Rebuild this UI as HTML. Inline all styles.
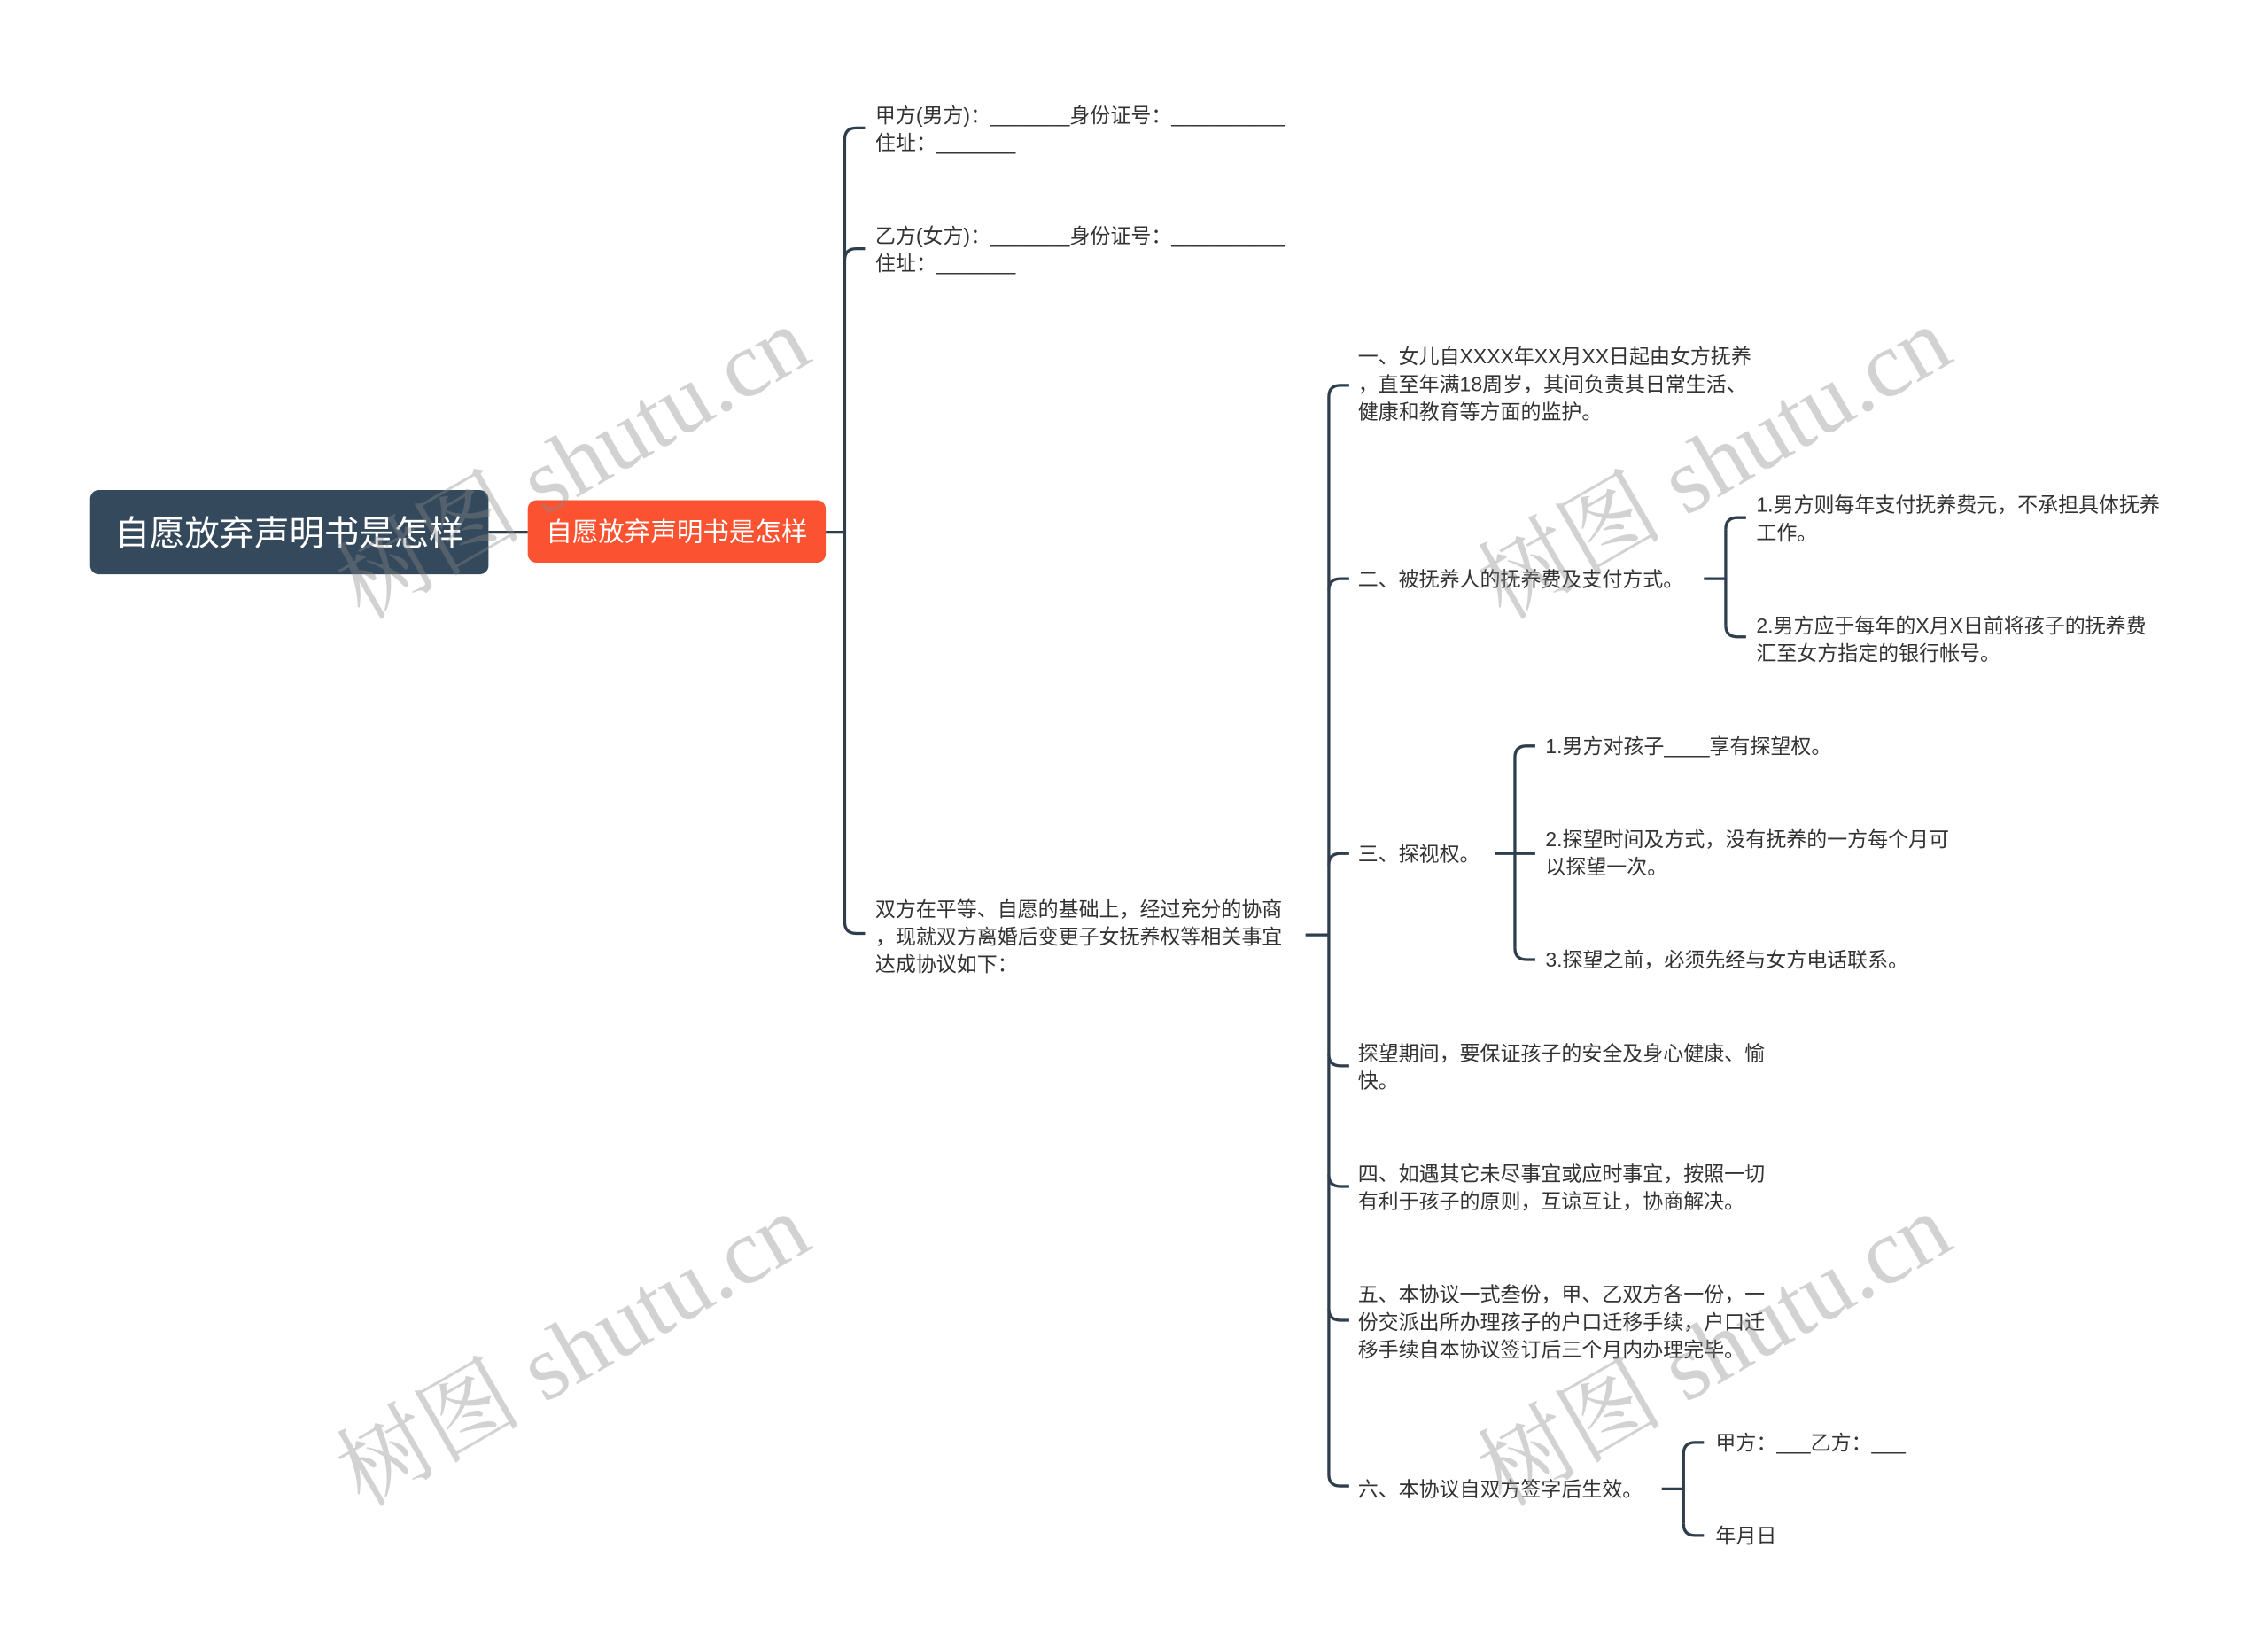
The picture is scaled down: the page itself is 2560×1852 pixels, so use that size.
<!DOCTYPE html>
<html><head><meta charset="utf-8"><style>
html,body{margin:0;padding:0;background:#fff;}
svg{display:block;}
text{font-family:"Liberation Sans","Noto Sans CJK SC",sans-serif;}
</style></head><body>
<svg width="2560" height="1852" viewBox="0 0 1560 1128.6" preserveAspectRatio="none" xmlns="http://www.w3.org/2000/svg">
<g fill="none" stroke="#2f3e4d" stroke-width="2">
<path d="M336 366 L363 366"/>
<path d="M568 366 L581 366"/>
<path d="M581 96 L581 634"/>
<path d="M581 96 Q581 88 589 88 L595 88"/>
<path d="M581 179 Q581 171 589 171 L595 171"/>
<path d="M581 634 Q581 642 589 642 L595 642"/>
<path d="M898 643 L914 643"/>
<path d="M914 273 L914 1014"/>
<path d="M914 273 Q914 265 922 265 L928 265"/>
<path d="M914 406 Q914 398 922 398 L928 398"/>
<path d="M914 595 Q914 587 922 587 L928 587"/>
<path d="M914 725 Q914 733 922 733 L928 733"/>
<path d="M914 808 Q914 816 922 816 L928 816"/>
<path d="M914 900 Q914 908 922 908 L928 908"/>
<path d="M914 1014 Q914 1022 922 1022 L928 1022"/>
<path d="M1172 398 L1187 398"/>
<path d="M1187 364 L1187 430"/>
<path d="M1187 364 Q1187 356 1195 356 L1201 356"/>
<path d="M1187 430 Q1187 438 1195 438 L1201 438"/>
<path d="M1028 587 L1042 587"/>
<path d="M1042 521 L1042 652"/>
<path d="M1042 521 Q1042 513 1050 513 L1056 513"/>
<path d="M1042 587 L1056 587"/>
<path d="M1042 652 Q1042 660 1050 660 L1056 660"/>
<path d="M1143 1024 L1158 1024"/>
<path d="M1158 1000 L1158 1048"/>
<path d="M1158 1000 Q1158 992 1166 992 L1172 992"/>
<path d="M1158 1048 Q1158 1056 1166 1056 L1172 1056"/>
</g>
<rect x="62" y="337" width="274" height="58" rx="6" fill="#34495c"/>
<text x="199" y="375" font-size="24" fill="#fff" text-anchor="middle">自愿放弃声明书是怎样</text>
<rect x="363" y="344" width="205" height="43" rx="6" fill="#fb5331"/>
<text x="465.5" y="372" font-size="18" fill="#fff" text-anchor="middle">自愿放弃声明书是怎样</text>
<g font-size="14" fill="#333">
<text x="602" y="84">甲方(男方)：_______身份证号：__________</text>
<text x="602" y="103">住址：_______</text>
<text x="602" y="167">乙方(女方)：_______身份证号：__________</text>
<text x="602" y="186">住址：_______</text>
<text x="602" y="630">双方在平等、自愿的基础上，经过充分的协商</text>
<text x="602" y="649">，现就双方离婚后变更子女抚养权等相关事宜</text>
<text x="602" y="668">达成协议如下：</text>
<text x="934" y="250">一、女儿自XXXX年XX月XX日起由女方抚养</text>
<text x="934" y="269">，直至年满18周岁，其间负责其日常生活、</text>
<text x="934" y="288">健康和教育等方面的监护。</text>
<text x="934" y="403">二、被抚养人的抚养费及支付方式。</text>
<text x="1208" y="352">1.男方则每年支付抚养费元，不承担具体抚养</text>
<text x="1208" y="371">工作。</text>
<text x="1208" y="435">2.男方应于每年的X月X日前将孩子的抚养费</text>
<text x="1208" y="454">汇至女方指定的银行帐号。</text>
<text x="934" y="592">三、探视权。</text>
<text x="1063" y="518">1.男方对孩子____享有探望权。</text>
<text x="1063" y="582">2.探望时间及方式，没有抚养的一方每个月可</text>
<text x="1063" y="601">以探望一次。</text>
<text x="1063" y="665">3.探望之前，必须先经与女方电话联系。</text>
<text x="934" y="729">探望期间，要保证孩子的安全及身心健康、愉</text>
<text x="934" y="748">快。</text>
<text x="934" y="812">四、如遇其它未尽事宜或应时事宜，按照一切</text>
<text x="934" y="831">有利于孩子的原则，互谅互让，协商解决。</text>
<text x="934" y="895">五、本协议一式叁份，甲、乙双方各一份，一</text>
<text x="934" y="914">份交派出所办理孩子的户口迁移手续，户口迁</text>
<text x="934" y="933">移手续自本协议签订后三个月内办理完毕。</text>
<text x="934" y="1029">六、本协议自双方签字后生效。</text>
<text x="1180" y="997">甲方：___乙方：___</text>
<text x="1180" y="1061">年月日</text>
</g>
<g font-size="64" fill="#888" fill-opacity="0.38" style="font-family:'Liberation Serif','Noto Serif CJK SC',serif">
<text style="font-family:'Liberation Serif','Noto Serif CJK SC',serif" x="395" y="340" text-anchor="middle" transform="rotate(-30 395 320)">树图 shutu.cn</text>
<text style="font-family:'Liberation Serif','Noto Serif CJK SC',serif" x="1180" y="340" text-anchor="middle" transform="rotate(-30 1180 320)">树图 shutu.cn</text>
<text style="font-family:'Liberation Serif','Noto Serif CJK SC',serif" x="395" y="950" text-anchor="middle" transform="rotate(-30 395 930)">树图 shutu.cn</text>
<text style="font-family:'Liberation Serif','Noto Serif CJK SC',serif" x="1180" y="950" text-anchor="middle" transform="rotate(-30 1180 930)">树图 shutu.cn</text>
</g>
</svg>
</body></html>
